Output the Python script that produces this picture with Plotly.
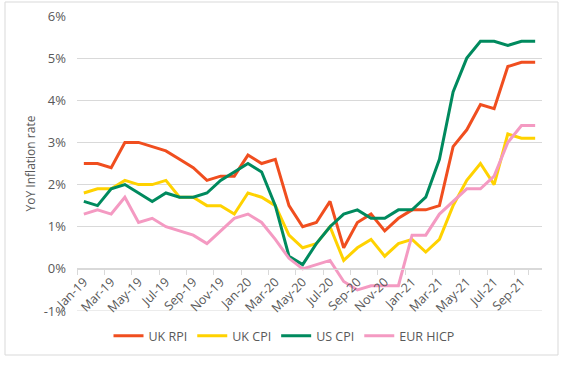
import plotly.graph_objects as go

months = ["Jan", "Feb", "Mar", "Apr", "May", "Jun", "Jul", "Aug", "Sep", "Oct", "Nov", "Dec"]
categories = [f"{m}-{y}" for y in ["19", "20", "21"] for m in months][:34]

uk_rpi = [2.5, 2.5, 2.4, 3.0, 3.0, 2.9, 2.8, 2.6, 2.4, 2.1, 2.2, 2.2,
          2.7, 2.5, 2.6, 1.5, 1.0, 1.1, 1.6, 0.5, 1.1, 1.3, 0.9, 1.2,
          1.4, 1.4, 1.5, 2.9, 3.3, 3.9, 3.8, 4.8, 4.9, 4.9]
uk_cpi = [1.8, 1.9, 1.9, 2.1, 2.0, 2.0, 2.1, 1.7, 1.7, 1.5, 1.5, 1.3,
          1.8, 1.7, 1.5, 0.8, 0.5, 0.6, 1.0, 0.2, 0.5, 0.7, 0.3, 0.6,
          0.7, 0.4, 0.7, 1.5, 2.1, 2.5, 2.0, 3.2, 3.1, 3.1]
us_cpi = [1.6, 1.5, 1.9, 2.0, 1.8, 1.6, 1.8, 1.7, 1.7, 1.8, 2.1, 2.3,
          2.5, 2.3, 1.5, 0.3, 0.1, 0.6, 1.0, 1.3, 1.4, 1.2, 1.2, 1.4,
          1.4, 1.7, 2.6, 4.2, 5.0, 5.4, 5.4, 5.3, 5.4, 5.4]
eur_hicp = [1.3, 1.4, 1.3, 1.7, 1.1, 1.2, 1.0, 0.9, 0.8, 0.6, 0.9, 1.2,
            1.3, 1.1, 0.7, 0.25, 0.0, 0.1, 0.2, -0.3, -0.5, -0.4, -0.4, -0.4,
            0.8, 0.8, 1.3, 1.6, 1.9, 1.9, 2.2, 3.0, 3.4, 3.4]

series_names = ["UK RPI", "UK CPI", "US CPI", "EUR HICP"]
series_values = [uk_rpi, uk_cpi, us_cpi, eur_hicp]
series_colors = ["#F04E1F", "#FFD200", "#008A5E", "#F49AC2"]

y_tickvals = [-1, 0, 1, 2, 3, 4, 5, 6]
y_ticktext = ["-1%", "0%", "1%", "2%", "3%", "4%", "5%", "6%"]

FONT = "Open Sans"
GREY = "#595959"
GRID = "#D9D9D9"

fig = go.Figure()
for name, vals, col in zip(series_names, series_values, series_colors):
    fig.add_trace(go.Scatter(x=categories, y=vals, mode="lines", name=name,
                             line=dict(color=col, width=3)))

W, H = 561, 366
L, R, T, B = 77, 19, 16, 55
pw, ph = W - L - R, H - T - B


def px_x(p):
    return (p - L) / pw


def px_y(p):
    return (H - B - p) / ph


fig.update_layout(
    width=W, height=H,
    margin=dict(l=L, r=R, t=T, b=B, autoexpand=False),
    paper_bgcolor="white", plot_bgcolor="white",
    font=dict(family=FONT, size=12, color=GREY),
    showlegend=True,
    legend=dict(orientation="h", x=px_x(284), xanchor="center", y=px_y(336), yanchor="middle",
                font=dict(size=12.5, color=GREY), traceorder="normal",
                itemwidth=30, tracegroupgap=0),
    xaxis=dict(type="category", categoryorder="array", categoryarray=categories,
               tickmode="array", tickvals=categories[::2], ticktext=categories[::2],
               tickson="boundaries", ticks="outside", ticklen=5, tickcolor=GRID,
               tickangle=-45, showgrid=False, showline=True, linecolor=GRID,
               linewidth=1, anchor="free", position=1 / 7, automargin=False,
               tickfont=dict(size=12.5, color=GREY), range=[-0.5, 33.5]),
    yaxis=dict(range=[-1, 6], tickvals=y_tickvals, ticktext=y_ticktext,
               showgrid=True, gridcolor=GRID, gridwidth=1, zeroline=False,
               showline=False, ticks="", ticklabelstandoff=10, automargin=False,
               tickfont=dict(size=13, color=GREY),
               title=dict(text="YoY Inflation rate", standoff=5,
                          font=dict(size=12, color=GREY))),
)

fig.add_shape(type="line", xref="paper", yref="y", x0=0, x1=1, y0=-1, y1=-1,
              line=dict(color=GRID, width=1), layer="below")
fig.add_shape(type="rect", xref="paper", yref="paper",
              x0=px_x(5), x1=px_x(558), y0=px_y(355), y1=px_y(2),
              line=dict(color=GRID, width=1), layer="below")

fig.write_html("out.html", config={"displayModeBar": False},
               post_script="document.body.style.margin='0';document.body.style.overflow='hidden';")
